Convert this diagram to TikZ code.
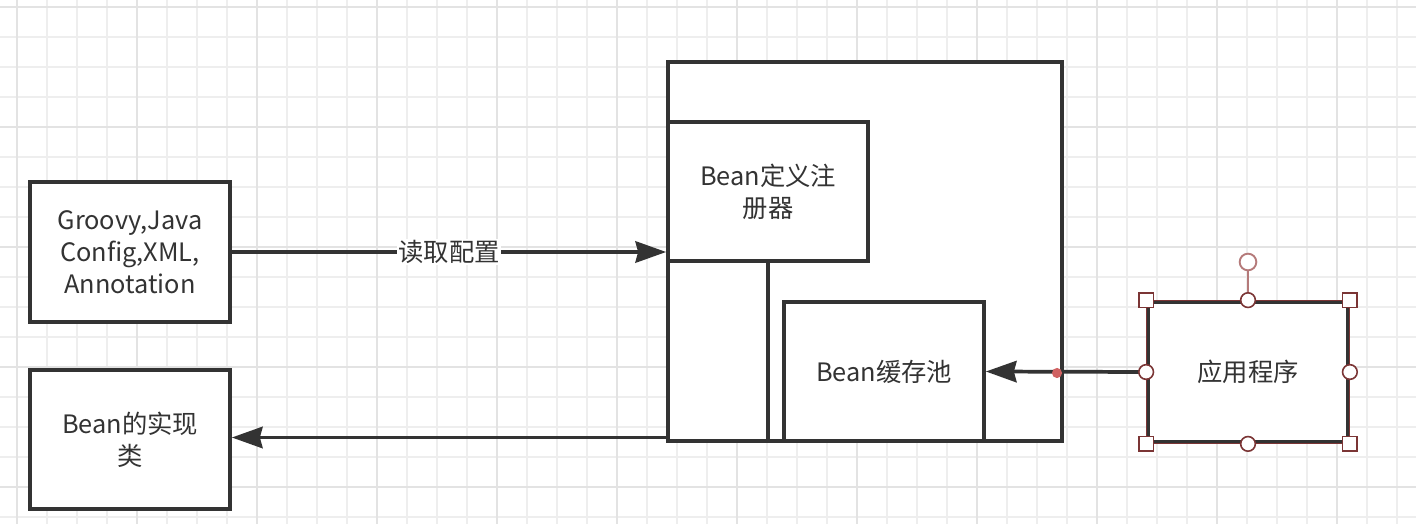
\documentclass[tikz,border=0pt]{standalone}
\usepackage{fontspec}
\setmainfont{Noto Sans CJK SC}
\usetikzlibrary{arrows.meta}
\definecolor{ink}{HTML}{333333}
\definecolor{gridminor}{HTML}{EEEEEE}
\definecolor{gridmajor}{HTML}{E3E3E3}
\definecolor{handle}{HTML}{7B3535}
\definecolor{rothandle}{HTML}{B57A7A}
\definecolor{reddot}{HTML}{D06262}
\begin{document}
\begin{tikzpicture}[x=0.75pt,y=-0.75pt,
  box/.style={draw=ink, line width=2.8pt, fill=white, inner sep=0pt, align=center,
    font=\fontsize{19}{24}\selectfont, text=ink},
  conn/.style={draw=ink, line width=2.8pt},
  arr/.style={conn, -{Stealth[length=23pt,width=16pt,inset=2pt]}},
  sq/.style={draw=handle, fill=white, line width=1.2pt, minimum size=11pt, inner sep=0pt},
  ci/.style={circle, draw=handle, fill=white, line width=1.2pt, minimum size=11pt, inner sep=0pt},
  lbl/.style={fill=white, inner sep=1pt, text=ink, font=\fontsize{19}{24}\selectfont}]
\useasboundingbox (0,0) rectangle (1416,524);
\fill[white] (0,0) rectangle (1416,524);
% grid
\foreach \i in {0,...,46} \draw[gridminor, line width=0.9pt] ({17+30*\i},0) -- ({17+30*\i},524);
\foreach \i in {0,...,17} \draw[gridminor, line width=0.9pt] (0,{7+30*\i}) -- (1416,{7+30*\i});
\foreach \i in {0,...,11} \draw[gridmajor, line width=0.9pt] ({17+120*\i},0) -- ({17+120*\i},524);
\foreach \i in {0,...,4} \draw[gridmajor, line width=0.9pt] (0,{7+120*\i}) -- (1416,{7+120*\i});

% nodes
\node[box, minimum width=150pt, minimum height=105pt] (cfg) at (130,252) {Groovy,Java\\Config,XML,\\Annotation};
\node[box, minimum width=150pt, minimum height=104.25pt] (impl) at (130,439.5) {Bean的实现\\类};
\node[box, minimum width=295.5pt, minimum height=284.25pt] (ctr) at (865,251.5) {};
\node[box, minimum width=150pt, minimum height=104.25pt] (reg) at (768,191.5) {Bean定义注\\册器};
\node[box, minimum width=150pt, minimum height=104.25pt] (cache) at (884,371.5) {Bean缓存池};
\node[box, minimum width=150pt, minimum height=105pt] (app) at (1248,372) {应用程序};

% inner partition
\coordinate (vb) at (reg.south |- ctr.south);
\draw[conn] (reg.south) -- ([yshift=1.5pt]vb);
\draw[conn] ([yshift=1.5pt]vb) -- ([yshift=1.5pt]ctr.south west);

% connectors
\draw[arr] (cfg.east) -- node[lbl] {读取配置} (cfg.east -| ctr.west);
\draw[arr] ([yshift=1.5pt]impl.east -| ctr.west) -- ([yshift=1.5pt]impl.east);
\draw[arr] (app.west) -- (cache.east);
\fill[reddot] (1057,373) circle (3.8pt);

% selection handles
\draw[handle, line width=0.9pt] (app.north west) rectangle (app.south east);
\node[circle, draw=rothandle, fill=white, line width=1.4pt, minimum size=12.5pt, inner sep=0pt] (rot) at (1248,262) {};
\draw[rothandle, line width=1.4pt] (rot) -- (app.north);
\node[sq] (h1) at (app.north west) {};
\node[sq] (h2) at (app.north east) {};
\node[sq] (h3) at (app.south west) {};
\node[sq] (h4) at (app.south east) {};
\node[ci] (h5) at (app.north) {};
\node[ci] (h6) at (app.south) {};
\node[ci] (h7) at (app.west) {};
\node[ci] (h8) at (app.east) {};
\end{tikzpicture}
\end{document}
